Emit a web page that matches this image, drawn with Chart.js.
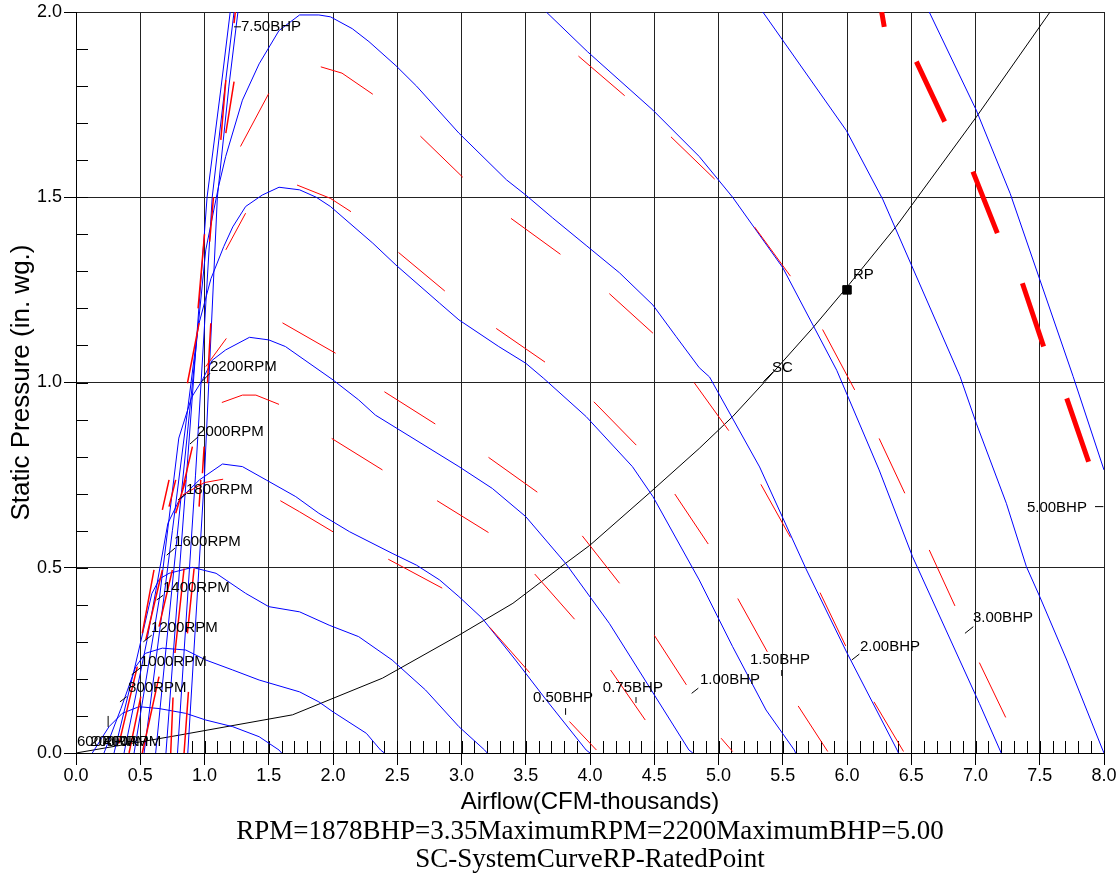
<!DOCTYPE html>
<html>
<head>
<meta charset="utf-8">
<title>Fan performance curves</title>
<script src="https://cdn.jsdelivr.net/npm/chart.js@4.4.1/dist/chart.umd.min.js"></script>
<style>
  html, body { margin: 0; padding: 0; background: #fff; }
  canvas { display: block; }
</style>
</head>
<body>
<canvas id="fanChart" width="1117" height="875"></canvas>
<script>
// airflow in thousands of CFM, static pressure in in. wg.
const airflowTickLabels = ["0.0", "0.5", "1.0", "1.5", "2.0", "2.5", "3.0", "3.5", "4.0",
  "4.5", "5.0", "5.5", "6.0", "6.5", "7.0", "7.5", "8.0"];
const pressureTickLabels = ["0.0", "0.5", "1.0", "1.5", "2.0"];

// blue fan curves (null = gap where the curve leaves the plot)
const fanCurve1 = [[0.127, 0], [0.2, 0.04], [0.257, 0.071], [0.36, 0.107], [0.49, 0.125], [0.646, 0.12],
  [0.854, 0.107], [1.01, 0.089], [1.22, 0.071], [1.425, 0.044], [1.58, 0.008], [1.6, 0]];
const fanCurve2 = [[0.218, 0], [0.35, 0.12], [0.465, 0.233], [0.54, 0.269], [0.672, 0.283], [0.854, 0.278],
  [1.01, 0.251], [1.22, 0.224], [1.425, 0.197], [1.74, 0.165], [1.89, 0.138], [2.0, 0.111], [2.26, 0.053],
  [2.37, 0.008], [2.4, 0]];
const fanCurve3 = [[0.296, 0], [0.45, 0.22], [0.59, 0.43], [0.65, 0.47], [0.724, 0.485], [0.906, 0.501],
  [1.09, 0.485], [1.32, 0.431], [1.5, 0.395], [1.74, 0.381], [1.97, 0.345], [2.2, 0.314], [2.46, 0.251],
  [2.72, 0.17], [2.98, 0.071], [3.18, 0.008], [3.2, 0]];
const fanCurve4 = [[0.374, 0], [0.55, 0.3], [0.715, 0.62], [0.8, 0.68], [0.88, 0.71], [0.96, 0.737], [1.14, 0.78],
  [1.295, 0.773], [1.48, 0.737], [1.71, 0.692], [1.89, 0.647], [2.13, 0.597], [2.46, 0.539], [2.65, 0.507],
  [2.83, 0.467], [2.98, 0.422], [3.16, 0.364], [3.42, 0.251], [3.66, 0.143], [3.97, 0.008], [4.0, 0]];
const fanCurve5 = [[0.452, 0], [0.65, 0.42], [0.8, 0.85], [0.9, 0.96], [0.984, 1.007], [1.06, 1.06], [1.165, 1.088],
  [1.35, 1.122], [1.5, 1.115], [1.63, 1.097], [2.0, 1.007], [2.2, 0.953], [2.33, 0.912], [2.98, 0.773],
  [3.24, 0.714], [3.5, 0.638], [3.81, 0.512], [4.15, 0.35], [4.33, 0.251], [4.77, 0.008], [4.8, 0]];
const fanCurve6 = [[0.53, 0], [0.75, 0.6], [0.95, 1.15], [1.05, 1.28], [1.15, 1.367], [1.22, 1.42], [1.32, 1.475],
  [1.45, 1.506], [1.58, 1.527], [1.74, 1.52], [1.87, 1.5], [1.98, 1.475], [2.31, 1.376], [2.49, 1.317],
  [2.83, 1.214], [2.98, 1.169], [3.29, 1.097], [3.5, 1.052], [3.64, 1.011], [3.97, 0.908], [4.33, 0.773],
  [4.49, 0.692], [4.85, 0.467], [5.11, 0.287], [5.37, 0.116], [5.59, 0.008], [5.6, 0]];
const fanCurve7 = [[0.62, 0], [0.82, 0.7], [1.01, 1.358], [1.11, 1.53], [1.165, 1.61], [1.295, 1.762],
  [1.425, 1.86], [1.58, 1.95], [1.74, 1.992], [1.89, 1.992], [1.98, 1.987], [2.15, 1.955], [2.28, 1.92],
  [2.49, 1.855], [2.65, 1.8], [2.98, 1.673], [3.35, 1.547], [3.5, 1.506], [3.71, 1.444], [3.97, 1.37],
  [4.23, 1.296], [4.49, 1.209], [4.67, 1.124], [4.85, 1.04], [4.93, 1.015], [5.32, 0.772], [5.685, 0.494],
  [6.0, 0.27], [6.39, 0.008], [6.4, 0]];
const fanCurve8 = [[0.7, 0], [0.86, 0.75], [1.02, 1.5], [1.13, 1.8], [1.2, 2.0], null,
  [3.66, 2.0], [3.98, 1.893], [4.49, 1.735], [4.85, 1.61], [5.11, 1.5], [5.5, 1.31], [5.92, 1.033],
  [6.25, 0.764], [6.51, 0.53], [6.77, 0.332], [7.03, 0.134], [7.19, 0.008], [7.2, 0]];
const fanCurve9 = [[0.79, 0], [0.93, 0.75], [1.06, 1.5], [1.16, 1.8], [1.23, 2.0], null,
  [5.345, 2.0], [5.995, 1.68], [6.28, 1.493], [6.88, 1.016], [7.006, 0.89], [7.24, 0.674], [7.396, 0.503],
  [7.5, 0.422], [7.71, 0.251], [7.99, 0.008], [8.0, 0]];
const fanCurve10 = [[0.87, 0], [1.0, 0.75], [1.1, 1.5], [1.19, 1.8], [1.26, 2.0], null,
  [6.64, 2.0], [7.006, 1.735], [7.27, 1.51], [7.76, 1.016], [8.0, 0.764]];

// red dashed curves, one piece per visible dash
const redCurve1 = [[0.828, 0.696], [1.0, 0.73], [1.145, 0.739], null, [1.59, 0.681], [1.74, 0.651], [2.0, 0.597], null,
  [2.43, 0.523], [2.85, 0.445], null, [3.22, 0.339], [3.53, 0.217], null, [3.84, 0.085], [4.05, 0.008]];
const redCurve2 = [[1.135, 0.946], [1.295, 0.966], [1.4, 0.966], [1.58, 0.941], null, [1.99, 0.849], [2.385, 0.764], null,
  [2.81, 0.681], [3.21, 0.595], null, [3.57, 0.483], [3.88, 0.361], null, [4.16, 0.224], [4.43, 0.089]];
const redCurve3 = [[1.01, 1.043], [1.17, 1.119], null, [1.607, 1.161], [2.02, 1.079], null, [2.4, 0.975], [2.796, 0.888], null,
  [3.21, 0.798], [3.59, 0.704], null, [3.94, 0.586], [4.23, 0.458], null, [4.5, 0.318], [4.75, 0.184], null,
  [5.02, 0.04], [5.11, 0.004]];
const redCurve4 = [[1.166, 1.358], [1.32, 1.457], null, [1.72, 1.533], [1.98, 1.497], [2.14, 1.461], null,
  [2.51, 1.351], [2.87, 1.247], null, [3.27, 1.146], [3.65, 1.055], null, [4.03, 0.948], [4.36, 0.831], null,
  [4.66, 0.699], [4.92, 0.564], null, [5.15, 0.417], [5.38, 0.273], null, [5.62, 0.127], [5.85, 0.004]];
const redCurve5 = [[1.28, 1.637], [1.5, 1.78], null, [1.905, 1.852], [2.07, 1.835], [2.31, 1.778], null,
  [2.68, 1.665], [3.01, 1.554], null, [3.385, 1.443], [3.77, 1.346], null, [4.15, 1.24], [4.49, 1.133], null,
  [4.81, 1.0], [5.08, 0.87], null, [5.33, 0.725], [5.56, 0.582], null, [5.79, 0.433], [5.99, 0.289], null,
  [6.21, 0.138], [6.44, 0.004]];
const redCurve6 = [[3.91, 1.881], [4.27, 1.774], null, [4.63, 1.663], [4.97, 1.549], null, [5.28, 1.42], [5.56, 1.287], null,
  [5.81, 1.143], [6.06, 0.98], null, [6.25, 0.849], [6.45, 0.701], null, [6.64, 0.548], [6.84, 0.397], null,
  [7.03, 0.244], [7.235, 0.096]];
const redCurve7 = [[6.27, 2.0], [6.29, 1.96], null, [6.54, 1.866], [6.76, 1.704], null, [6.98, 1.569], [7.17, 1.403], null,
  [7.365, 1.268], [7.53, 1.097], null, [7.71, 0.957], [7.88, 0.786]];
// steep red pieces in the low-flow bundle
const redBundle = [[0.335, 0.026], [0.477, 0.233], null, [0.413, 0], [0.504, 0.152], null, [0.516, 0], [0.646, 0.206], null,
  [0.516, 0.323], [0.607, 0.494], null, [0.543, 0.305], [0.672, 0.494], null, [0.646, 0.341], [0.75, 0.494], null,
  [0.737, 0], [0.755, 0.15], null, [0.77, 0.27], [0.841, 0.498], null, [0.867, 0.323], [0.919, 0.498], null,
  [0.841, 0], [0.875, 0.165], null, [0.672, 0.656], [0.724, 0.737], null, [0.724, 0.665], [0.776, 0.737], null,
  [0.776, 0.647], [0.854, 0.737], null, [0.958, 0.665], [0.971, 0.737], null, [0.828, 0.71], [0.906, 0.827], null,
  [0.984, 0.755], [0.997, 0.827], null, [0.867, 0.998], [0.958, 1.16], null, [1.023, 0.998], [1.049, 1.16], null,
  [0.95, 1.2], [1.0, 1.4], null, [1.04, 1.38], [1.07, 1.5], null, [1.127, 1.655], [1.166, 1.816], null,
  [1.166, 1.673], [1.23, 1.812], null, [1.23, 1.97], [1.24, 2.0]];

// system curve and rated point
const systemCurve = [[0, 0], [0.8, 0.048], [1.685, 0.103], [2.385, 0.202], [2.98, 0.318], [3.4, 0.404], [3.81, 0.512],
  [4.0, 0.561], [4.46, 0.701], [4.85, 0.822], [5.11, 0.908], [5.36, 1.002], [5.73, 1.146], [5.987, 1.252],
  [6.38, 1.42], [7.007, 1.717], [7.58, 2.0]];
const ratedPoint = [[6.0, 1.25]];

const curveLabels = ["7.50BHP", "2200RPM", "2000RPM", "1800RPM", "1600RPM", "1400RPM", "1200RPM", "1000RPM",
  "800RPM", "600RPM", "200RPM", "400RPM", "0.50BHP", "0.75BHP", "1.00BHP", "1.50BHP", "2.00BHP", "3.00BHP",
  "5.00BHP", "SC", "RP"];

// where each label sits (data units) and its little leader line
const labelPlacement = [
  { at: [1.284, 1.96], leader: [1.23, 1.96, 1.284, 1.96] },
  { at: [1.043, 1.042], leader: [0.978, 1.002, 1.043, 1.025] },
  { at: [0.942, 0.866], leader: [0.887, 0.834, 0.949, 0.853] },
  { at: [0.856, 0.71], leader: [0.794, 0.683, 0.856, 0.699] },
  { at: [0.763, 0.57], leader: [0.706, 0.534, 0.77, 0.553] },
  { at: [0.677, 0.445], leader: [0.628, 0.413, 0.679, 0.426] },
  { at: [0.584, 0.337], leader: [0.524, 0.3, 0.589, 0.318] },
  { at: [0.498, 0.246], leader: [0.433, 0.211, 0.498, 0.229] },
  { at: [0.405, 0.175], leader: [0.342, 0.138, 0.395, 0.152] },
  { at: [0.008, 0.03] },
  { at: [0.11, 0.03] },
  { at: [0.21, 0.03], leader: [0.25, 0.07, 0.25, 0.1] },
  { at: [3.556, 0.148], leader: [3.81, 0.121, 3.81, 0.103] },
  { at: [4.1, 0.175], leader: [4.358, 0.151, 4.358, 0.135] },
  { at: [4.856, 0.197], leader: [4.791, 0.161, 4.843, 0.175] },
  { at: [5.245, 0.251], leader: [5.492, 0.224, 5.492, 0.208] },
  { at: [6.101, 0.286], leader: [6.037, 0.251, 6.096, 0.267] },
  { at: [6.98, 0.364], leader: [6.918, 0.323, 6.983, 0.341] },
  { at: [7.4, 0.661], leader: [7.93, 0.665, 7.995, 0.665] },
  { at: [5.416, 1.039], leader: [5.349, 1.002, 5.426, 1.029] },
  { at: [6.047, 1.29] },
];

const toPoints = (arr) => arr.map((p) => (p ? { x: p[0], y: p[1] } : { x: NaN, y: NaN }));

const lineSet = (arr, color, width) => ({
  data: toPoints(arr),
  showLine: true,
  borderColor: color,
  borderWidth: width,
  pointRadius: 0,
  spanGaps: false,
  tension: 0,
  fill: false,
});

const blue = "#0000ff";
const red = "#ff0000";

const minorTicks = {
  id: "minorTicks",
  beforeDatasetsDraw(chart) {
    const { ctx, chartArea, scales } = chart;
    ctx.save();
    ctx.strokeStyle = "#000";
    ctx.lineWidth = 1;
    ctx.beginPath();
    for (let i = 9; i <= 80; i++) {
      const px = Math.round(scales.x.getPixelForValue(i / 10)) + 0.5;
      ctx.moveTo(px, chartArea.bottom);
      ctx.lineTo(px, chartArea.bottom - 12);
    }
    for (let i = 1; i < 20; i++) {
      const py = Math.round(scales.y.getPixelForValue(i / 10)) + 0.5;
      ctx.moveTo(chartArea.left, py);
      ctx.lineTo(chartArea.left + 12, py);
    }
    ctx.stroke();
    ctx.restore();
  },
};

const curveLabelPlugin = {
  id: "curveLabels",
  afterDatasetsDraw(chart) {
    const { ctx, scales } = chart;
    ctx.save();
    ctx.strokeStyle = "#000";
    ctx.fillStyle = "#000";
    ctx.lineWidth = 1;
    ctx.font = '15px "Liberation Sans", Arial, sans-serif';
    ctx.textBaseline = "middle";
    ctx.textAlign = "left";
    curveLabels.forEach((text, i) => {
      const place = labelPlacement[i];
      if (place.leader) {
        const [x1, y1, x2, y2] = place.leader;
        ctx.beginPath();
        ctx.moveTo(scales.x.getPixelForValue(x1), scales.y.getPixelForValue(y1));
        ctx.lineTo(scales.x.getPixelForValue(x2), scales.y.getPixelForValue(y2));
        ctx.stroke();
      }
      ctx.fillText(text, scales.x.getPixelForValue(place.at[0]), scales.y.getPixelForValue(place.at[1]));
    });
    ctx.restore();
  },
};

new Chart(document.getElementById("fanChart"), {
  type: "scatter",
  data: {
    datasets: [
      lineSet(redBundle, red, 1.5),
      lineSet(redCurve1, red, 1),
      lineSet(redCurve2, red, 1),
      lineSet(redCurve3, red, 1),
      lineSet(redCurve4, red, 1),
      lineSet(redCurve5, red, 1),
      lineSet(redCurve6, red, 1),
      lineSet(redCurve7, red, 5),
      lineSet(fanCurve1, blue, 1),
      lineSet(fanCurve2, blue, 1),
      lineSet(fanCurve3, blue, 1),
      lineSet(fanCurve4, blue, 1),
      lineSet(fanCurve5, blue, 1),
      lineSet(fanCurve6, blue, 1),
      lineSet(fanCurve7, blue, 1),
      lineSet(fanCurve8, blue, 1),
      lineSet(fanCurve9, blue, 1),
      lineSet(fanCurve10, blue, 1),
      lineSet(systemCurve, "#000", 1),
      {
        data: toPoints(ratedPoint),
        showLine: false,
        pointStyle: "rect",
        pointRadius: 6,
        backgroundColor: "#000",
        borderColor: "#000",
      },
    ],
  },
  options: {
    responsive: false,
    animation: false,
    events: [],
    layout: {
      padding: { left: 0, right: 13, top: 12, bottom: 0 },
    },
    plugins: {
      legend: { display: false },
      tooltip: { enabled: false },
      title: {
        display: true,
        position: "bottom",
        fullSize: false,
        text: ["RPM=1878BHP=3.35MaximumRPM=2200MaximumBHP=5.00", "SC-SystemCurveRP-RatedPoint"],
        color: "#000",
        font: { family: '"Liberation Serif", "Times New Roman", serif', size: 27, weight: "normal", lineHeight: 28 / 27 },
        padding: { top: 1, bottom: 1 },
      },
    },
    scales: {
      x: {
        type: "linear",
        min: 0,
        max: 8,
        ticks: {
          stepSize: 0.5,
          autoSkip: false,
          maxRotation: 0,
          padding: 0,
          color: "#000",
          font: { family: '"Liberation Sans", Arial, sans-serif', size: 18 },
          callback: (value) => airflowTickLabels[Math.round(value * 2)],
        },
        grid: { color: "#222", lineWidth: 1, tickLength: 12, tickColor: "#000" },
        border: { color: "#000", width: 1 },
        title: {
          display: true,
          text: "Airflow(CFM-thousands)",
          color: "#000",
          font: { family: '"Liberation Sans", Arial, sans-serif', size: 24 },
          padding: { top: 0, bottom: 0 },
        },
        afterFit: (scale) => {
          scale.height = 64;
          scale.paddingLeft = 0;
          scale.paddingRight = 0;
        },
      },
      y: {
        type: "linear",
        min: 0,
        max: 2,
        ticks: {
          stepSize: 0.5,
          autoSkip: false,
          padding: 2,
          color: "#000",
          font: { family: '"Liberation Sans", Arial, sans-serif', size: 18 },
          callback: (value) => pressureTickLabels[Math.round(value * 2)],
        },
        grid: { color: "#222", lineWidth: 1, tickLength: 12, tickColor: "#000" },
        border: { color: "#000", width: 1 },
        title: {
          display: true,
          text: "Static Pressure (in. wg.)",
          color: "#000",
          font: { family: '"Liberation Sans", Arial, sans-serif', size: 26 },
          padding: { top: 6, bottom: 0 },
        },
        afterFit: (scale) => {
          scale.width = 76;
          scale.paddingTop = 0;
          scale.paddingBottom = 0;
        },
      },
    },
  },
  plugins: [minorTicks, curveLabelPlugin],
});
</script>
</body>
</html>
